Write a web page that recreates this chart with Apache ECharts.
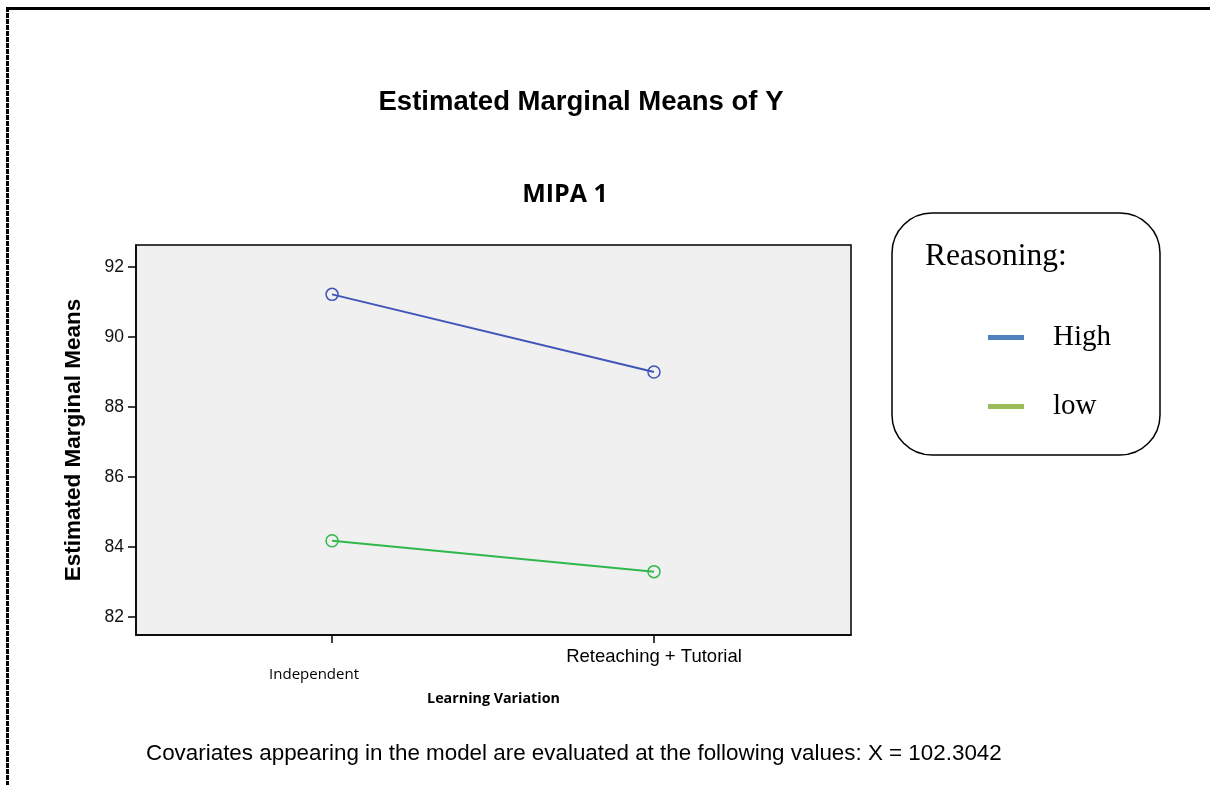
<!DOCTYPE html>
<html><head><meta charset="utf-8">
<script src="https://cdn.jsdelivr.net/npm/echarts@6/dist/echarts.min.js"></script>
<style>
html,body{margin:0;padding:0;background:#fff;}
#c{width:1210px;height:785px;}
#bt{position:absolute;left:6px;top:7px;width:1204px;height:3px;background:#000;}
#bl{position:absolute;left:6px;top:7px;width:3px;height:778px;background:repeating-linear-gradient(to bottom,#000 0px,#000 5px,#fff 5px,#fff 6px);}
</style></head><body>
<div id="c"></div><div id="bt"></div><div id="bl"></div>
<script>
const categories = ['Independent', 'Reteaching + Tutorial'];
const seriesNames = ['High', 'low'];
const highValues = [91.22, 89.0];
const lowValues = [84.18, 83.3];
const yTicks = [82, 84, 86, 88, 90, 92];

const chart = echarts.init(document.getElementById('c'));
chart.setOption({
  backgroundColor: '#fff',
  animation: false,
  title: [
    {text: 'Estimated Marginal Means of Y', left: 576, top: 83, textAlign: 'center',
     textStyle: {fontFamily: 'Liberation Sans, Arial', fontWeight: 'bold', fontSize: 27.5, color: '#000'}},
    {text: 'MIPA 1', left: 560, top: 177, textAlign: 'center',
     textStyle: {fontFamily: 'Open Sans', fontWeight: 'bold', fontSize: 25, color: '#000'}},
    {text: 'Covariates appearing in the model are evaluated at the following values: X = 102.3042', left: 141, top: 738,
     textStyle: {fontFamily: 'Liberation Sans, Arial', fontWeight: 'normal', fontSize: 22.4, color: '#000'}}
  ],
  grid: {left: 136, top: 245, width: 715, height: 390, show: true, backgroundColor: '#f0f0f0',
         borderColor: '#000', borderWidth: 1.5},
  xAxis: {
    type: 'value', min: -0.609, max: 1.612,
    splitLine: {show: false},
    axisLine: {show: true, onZero: false, lineStyle: {color: '#000', width: 1.5}},
    axisTick: {show: true, customValues: [0, 1], length: 8, lineStyle: {color: '#000', width: 1.5}},
    axisLabel: {show: true, customValues: [0, 1], margin: 12,
      formatter: v => v === 0 ? '{a|' + categories[0] + '}' : '{b|' + categories[1] + '}',
      rich: {
        a: {fontFamily: 'Open Sans', fontSize: 15, color: '#000', padding: [20, 36, 0, 0]},
        b: {fontFamily: 'Liberation Sans, Arial', fontSize: 18.5, color: '#000'}
      }},
    name: 'Learning Variation', nameLocation: 'middle', nameGap: 57,
    nameTextStyle: {fontFamily: 'Open Sans', fontWeight: 'bold', fontSize: 14.3, color: '#000'}
  },
  yAxis: {
    type: 'value', min: 81.49, max: 92.63,
    splitLine: {show: false},
    axisLine: {show: true, onZero: false, lineStyle: {color: '#000', width: 1.5}},
    axisTick: {show: true, customValues: yTicks, length: 8, lineStyle: {color: '#000', width: 1.5}},
    axisLabel: {show: true, customValues: yTicks, margin: 12, fontFamily: 'Liberation Sans, Arial', fontSize: 17.5, color: '#111'},
    name: 'Estimated Marginal Means', nameLocation: 'middle', nameGap: 51,
    nameTextStyle: {fontFamily: 'Liberation Sans, Arial', fontWeight: 'bold', fontSize: 22.5, color: '#000'}
  },
  legend: {
    left: 983, top: 318, orient: 'vertical', itemGap: 40, itemWidth: 36, itemHeight: 5, icon: 'rect',
    textStyle: {fontFamily: 'Liberation Serif, Times New Roman', fontSize: 29, color: '#000', padding: [0, 0, 0, 24]},
    data: [
      {name: seriesNames[0], itemStyle: {color: '#4f81bd', borderWidth: 0}},
      {name: seriesNames[1], itemStyle: {color: '#9bbb59', borderWidth: 0}}
    ]
  },
  graphic: [
    {type: 'rect', shape: {x: 892, y: 213, width: 268, height: 242, r: 40},
     style: {fill: 'none', stroke: '#000', lineWidth: 1.5}, z: 0},
    {type: 'text', x: 925, y: 241, style: {text: 'Reasoning:', font: '31.5px "Liberation Serif", "Times New Roman"', fill: '#000'}}
  ],
  series: [
    {name: seriesNames[0], type: 'line', data: [[0, highValues[0]], [1, highValues[1]]],
     symbol: 'circle', symbolSize: 12, color: '#3f55b8',
     lineStyle: {width: 2, color: '#3f55b8'}, itemStyle: {color: 'rgba(0,0,0,0)', borderColor: '#3f55b8', borderWidth: 1.5}},
    {name: seriesNames[1], type: 'line', data: [[0, lowValues[0]], [1, lowValues[1]]],
     symbol: 'circle', symbolSize: 12, color: '#2fb84b',
     lineStyle: {width: 2, color: '#2fb84b'}, itemStyle: {color: 'rgba(0,0,0,0)', borderColor: '#2fb84b', borderWidth: 1.5}}
  ]
});
</script></body></html>
